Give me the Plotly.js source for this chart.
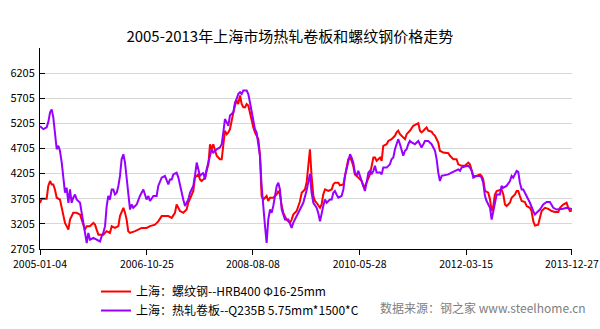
<!DOCTYPE html>
<html>
<head>
<meta charset="utf-8">
<script src="https://cdn.plot.ly/plotly-3.0.1.min.js"></script>
<style>html,body{margin:0;padding:0;background:#fff;}#chart{width:600px;height:329px;}</style>
</head>
<body>
<div id="chart"></div>
<script>
// Rebar (螺纹钢) price, Shanghai
const rebarDates = ['2005-01-04','2005-01-14','2005-02-14','2005-02-24','2005-03-07','2005-03-17','2005-03-27','2005-04-06','2005-04-17','2005-05-07','2005-05-18','2005-05-28','2005-06-07','2005-06-17','2005-06-28','2005-07-08','2005-07-18','2005-07-28','2005-08-18','2005-09-08','2005-09-18','2005-09-28','2005-10-08','2005-10-19','2005-11-08','2005-11-29','2005-12-09','2005-12-19','2005-12-30','2006-01-29','2006-02-19','2006-03-11','2006-03-22','2006-04-11','2006-05-02','2006-05-12','2006-05-22','2006-06-02','2006-06-12','2006-06-22','2006-07-02','2006-07-13','2006-08-13','2006-09-02','2006-09-23','2006-10-23','2006-11-13','2006-12-14','2007-01-03','2007-01-24','2007-03-06','2007-03-27','2007-04-16','2007-04-26','2007-05-07','2007-05-17','2007-06-06','2007-06-27','2007-07-07','2007-07-28','2007-08-07','2007-08-17','2007-09-07','2007-09-17','2007-09-27','2007-10-08','2007-10-18','2007-10-28','2007-11-08','2007-11-18','2007-11-28','2007-12-08','2007-12-19','2007-12-29','2008-01-08','2008-01-18','2008-01-29','2008-02-08','2008-02-18','2008-02-29','2008-03-10','2008-03-20','2008-03-30','2008-04-10','2008-04-20','2008-04-30','2008-05-10','2008-05-21','2008-05-31','2008-06-10','2008-06-21','2008-07-01','2008-07-11','2008-07-21','2008-08-01','2008-08-11','2008-08-21','2008-08-31','2008-09-11','2008-09-21','2008-10-01','2008-10-12','2008-10-22','2008-11-01','2008-11-11','2008-11-22','2008-12-12','2008-12-22','2009-01-02','2009-01-12','2009-01-22','2009-02-02','2009-02-12','2009-03-04','2009-03-15','2009-03-25','2009-04-04','2009-04-14','2009-05-05','2009-05-25','2009-06-05','2009-06-15','2009-06-25','2009-07-06','2009-07-16','2009-07-26','2009-08-05','2009-08-16','2009-08-26','2009-09-05','2009-09-26','2009-10-06','2009-10-16','2009-10-27','2009-11-16','2009-12-07','2009-12-17','2009-12-27','2010-01-17','2010-01-27','2010-02-17','2010-02-27','2010-03-09','2010-03-19','2010-03-30','2010-04-09','2010-04-19','2010-04-29','2010-05-20','2010-05-30','2010-06-10','2010-06-20','2010-06-30','2010-07-10','2010-07-31','2010-08-21','2010-08-31','2010-09-10','2010-10-01','2010-10-11','2010-10-21','2010-11-11','2010-11-21','2010-12-11','2011-01-01','2011-01-11','2011-01-21','2011-02-01','2011-02-21','2011-03-04','2011-03-14','2011-03-24','2011-04-03','2011-04-24','2011-05-15','2011-05-25','2011-06-04','2011-06-14','2011-06-25','2011-07-05','2011-07-15','2011-07-25','2011-08-15','2011-08-25','2011-09-05','2011-09-15','2011-09-25','2011-10-05','2011-10-26','2011-11-26','2011-12-06','2011-12-27','2012-01-16','2012-01-26','2012-02-16','2012-03-07','2012-03-28','2012-04-07','2012-04-28','2012-05-18','2012-06-08','2012-06-18','2012-06-28','2012-07-09','2012-07-29','2012-08-09','2012-08-19','2012-08-29','2012-09-08','2012-09-19','2012-10-09','2012-10-19','2012-10-30','2012-11-09','2012-11-19','2012-12-10','2012-12-20','2013-01-10','2013-01-20','2013-01-30','2013-02-09','2013-02-20','2013-03-12','2013-03-23','2013-04-12','2013-04-22','2013-05-03','2013-05-13','2013-06-02','2013-06-13','2013-06-23','2013-07-14','2013-08-03','2013-08-24','2013-09-13','2013-10-04','2013-10-14','2013-11-03','2013-11-24','2013-12-04','2013-12-15','2013-12-27'];
const rebarPrices = [3620,3705,3705,3960,4058,3990,3990,3890,3725,3690,3525,3360,3225,3160,3090,3290,3360,3425,3425,3390,3290,3190,3090,3160,3160,3225,3190,3090,2990,2990,3060,3025,3160,3125,3160,3360,3425,3525,3425,3290,3060,3025,3060,3090,3125,3125,3160,3190,3255,3360,3360,3325,3425,3590,3525,3460,3425,3490,3625,3790,3860,4125,4190,4090,4058,4090,4125,4260,4390,4790,4690,4790,4660,4560,4525,4490,4490,4790,5058,4990,5025,5090,5290,5425,5560,5660,5590,5760,5590,5525,5525,5590,5560,5425,5225,5125,5025,4958,4890,4560,3760,3690,3725,3760,3660,3725,3725,3760,3790,3860,3790,3560,3425,3290,3255,3225,3290,3390,3460,3650,3825,3860,3890,4040,4425,4690,4160,3760,3660,3625,3525,3590,3790,3890,3860,3890,3990,4025,4025,3970,3990,4160,4290,4490,4525,4460,4360,4190,4125,4090,4058,3960,3960,4025,4190,4525,4525,4460,4525,4460,4758,4790,4855,4890,4958,5025,5058,4990,4925,4890,4990,5025,5058,5158,5190,5210,5058,5025,5058,5090,5125,5058,5040,4990,4958,4890,4825,4660,4625,4610,4560,4490,4490,4390,4360,4360,4425,4390,4160,4160,4190,4160,4090,3860,3825,3690,3460,3560,3790,3860,3890,3890,3790,3590,3560,3625,3725,3790,3860,3860,3760,3660,3640,3560,3525,3460,3255,3170,3190,3360,3460,3525,3505,3460,3440,3440,3525,3590,3625,3525,3460,3470];

// Hot-rolled coil (热轧卷板) price, Shanghai
const coilDates = ['2005-01-04','2005-01-25','2005-02-14','2005-02-24','2005-03-07','2005-03-17','2005-03-27','2005-04-06','2005-04-17','2005-04-27','2005-05-07','2005-05-18','2005-05-28','2005-06-07','2005-06-17','2005-06-28','2005-07-08','2005-07-18','2005-07-28','2005-08-08','2005-08-18','2005-09-08','2005-09-18','2005-09-28','2005-10-08','2005-10-19','2005-10-29','2005-11-08','2005-11-29','2005-12-19','2006-01-09','2006-01-19','2006-01-29','2006-02-09','2006-02-19','2006-03-01','2006-03-11','2006-03-22','2006-04-01','2006-04-11','2006-04-22','2006-05-02','2006-05-12','2006-05-22','2006-06-02','2006-06-12','2006-06-22','2006-07-02','2006-07-13','2006-07-23','2006-08-02','2006-08-23','2006-09-02','2006-09-12','2006-10-03','2006-10-13','2006-10-23','2006-11-03','2006-11-13','2006-12-04','2006-12-24','2007-01-03','2007-01-24','2007-02-13','2007-03-06','2007-03-16','2007-03-27','2007-04-06','2007-04-26','2007-05-07','2007-05-17','2007-05-27','2007-06-06','2007-06-17','2007-06-27','2007-07-07','2007-07-18','2007-08-07','2007-08-17','2007-08-28','2007-09-07','2007-09-17','2007-10-08','2007-10-18','2007-10-28','2007-11-08','2007-11-18','2007-11-28','2007-12-08','2007-12-29','2008-01-18','2008-01-29','2008-02-08','2008-02-18','2008-02-29','2008-03-10','2008-03-20','2008-03-30','2008-04-10','2008-04-20','2008-04-30','2008-05-10','2008-05-21','2008-05-31','2008-06-10','2008-07-01','2008-07-11','2008-07-21','2008-08-01','2008-08-11','2008-08-21','2008-08-31','2008-09-11','2008-09-21','2008-10-01','2008-10-12','2008-10-22','2008-11-01','2008-11-11','2008-11-22','2008-12-02','2008-12-12','2008-12-22','2009-01-02','2009-01-12','2009-01-22','2009-02-02','2009-02-12','2009-02-22','2009-03-15','2009-04-04','2009-04-14','2009-05-05','2009-05-25','2009-06-15','2009-07-06','2009-07-16','2009-07-26','2009-08-05','2009-08-16','2009-09-05','2009-09-15','2009-09-26','2009-10-06','2009-10-16','2009-10-27','2009-11-06','2009-11-26','2009-12-07','2009-12-17','2009-12-27','2010-01-06','2010-01-17','2010-02-06','2010-02-17','2010-02-27','2010-03-09','2010-03-19','2010-03-30','2010-04-09','2010-04-19','2010-04-29','2010-05-10','2010-05-20','2010-05-30','2010-06-10','2010-06-20','2010-06-30','2010-07-10','2010-07-21','2010-07-31','2010-08-10','2010-08-21','2010-08-31','2010-09-10','2010-10-01','2010-10-11','2010-10-21','2010-11-11','2010-12-01','2010-12-11','2010-12-22','2011-01-01','2011-01-11','2011-01-21','2011-02-01','2011-02-11','2011-02-21','2011-03-04','2011-03-14','2011-03-24','2011-04-03','2011-04-14','2011-05-04','2011-05-25','2011-06-04','2011-06-14','2011-06-25','2011-07-05','2011-07-25','2011-08-15','2011-09-05','2011-09-15','2011-09-25','2011-10-05','2011-10-16','2011-11-05','2011-11-26','2011-12-16','2012-01-06','2012-01-26','2012-02-06','2012-02-16','2012-03-07','2012-03-28','2012-04-07','2012-04-18','2012-04-28','2012-05-18','2012-06-08','2012-06-18','2012-06-28','2012-07-09','2012-07-19','2012-07-29','2012-08-09','2012-08-19','2012-08-29','2012-09-08','2012-09-19','2012-10-09','2012-10-19','2012-10-30','2012-11-19','2012-12-10','2012-12-20','2012-12-30','2013-01-10','2013-01-20','2013-01-30','2013-02-09','2013-02-20','2013-03-02','2013-03-12','2013-03-23','2013-04-02','2013-04-12','2013-05-03','2013-05-13','2013-05-23','2013-06-13','2013-07-03','2013-07-24','2013-08-13','2013-08-24','2013-09-03','2013-09-23','2013-10-14','2013-11-03','2013-11-24','2013-12-15','2013-12-27'];
const coilPrices = [5150,5090,5125,5225,5425,5480,5325,5025,4690,4760,4660,4425,4090,3825,3925,3625,3890,3625,3725,3790,3690,3625,3425,3225,2960,2825,3025,2890,2925,2890,2855,2960,3025,3160,3560,3760,3690,3890,3890,3790,3825,3960,4160,4490,4590,4425,4160,3825,3490,3590,3525,3590,3690,3760,3890,3790,3690,3760,3660,3760,3760,3960,4125,4160,3990,4090,4090,4190,4225,4125,3960,3790,3690,3560,3625,3690,3825,3960,4160,4425,4290,4160,4225,4090,4290,4425,4560,4690,4625,4690,4725,4790,5025,5290,5225,5158,5360,5390,5425,5625,5690,5790,5825,5790,5860,5860,5790,5625,5425,5190,5090,5025,4825,4560,3960,3425,3160,2825,3290,3490,3425,3560,3760,3960,4025,3890,3490,3360,3290,3290,3125,3225,3360,3470,3625,3880,4025,4200,3825,3625,3525,3425,3255,3425,3560,3690,3625,3690,3690,3825,3860,3790,3725,3760,3890,4160,4290,4460,4590,4525,4425,4225,4160,4260,4160,4090,3960,3860,4025,4225,4260,4190,4260,4360,4225,4225,4190,4325,4325,4390,4490,4525,4690,4790,4890,4790,4690,4560,4660,4690,4790,4855,4825,4790,4855,4790,4725,4790,4855,4855,4790,4660,4490,4225,4058,4160,4175,4190,4225,4260,4290,4260,4325,4345,4360,4325,4260,4125,4160,4160,4125,4025,3760,3660,3590,3525,3290,3460,3660,3790,3790,3960,3925,3960,4058,4160,4125,4190,4260,4240,4025,3890,3890,3825,3760,3690,3625,3460,3390,3425,3490,3590,3640,3640,3590,3525,3490,3490,3505,3525,3505,3500];

const seriesNames = ['上海：螺纹钢--HRB400 Φ16-25mm', '上海：热轧卷板--Q235B 5.75mm*1500*C'];
const xTickDates = ['2005-01-04','2006-10-25','2008-08-08','2010-05-28','2012-03-15','2013-12-27'];
const xRange = ['2005-01-04', '2013-12-27 08:00'];
const yTicks = [2705, 3205, 3705, 4205, 4705, 5205, 5705, 6205];
const chartTitle = '2005-2013年上海市场热轧卷板和螺纹钢价格走势';
const sourceNote = '数据来源：钢之家 www.steelhome.cn';

const FONT = 'Noto Sans CJK SC, Noto Sans, sans-serif';

const traces = [
  {x: rebarDates, y: rebarPrices, name: seriesNames[0], type: 'scatter', mode: 'lines',
   line: {color: '#ff0000', width: 2}, hoverinfo: 'skip'},
  {x: coilDates, y: coilPrices, name: seriesNames[1], type: 'scatter', mode: 'lines',
   line: {color: '#9900ff', width: 2}, hoverinfo: 'skip'}
];

const layout = {
  width: 600, height: 329,
  margin: {l: 40, r: 28, t: 48, b: 80, pad: 0, autoexpand: false},
  paper_bgcolor: '#ffffff', plot_bgcolor: '#ffffff',
  font: {family: FONT, size: 11, color: '#000000'},
  title: {text: chartTitle, font: {family: FONT, size: 15, color: '#000000'},
          xref: 'container', x: 0.483, xanchor: 'center',
          yref: 'container', y: 0.8875, yanchor: 'middle', automargin: false},
  xaxis: {type: 'date', range: xRange,
          tickmode: 'array', tickvals: xTickDates, ticktext: xTickDates, tickangle: 0,
          ticks: 'outside', ticklen: 5, tickcolor: '#000', tickwidth: 1,
          showline: true, linecolor: '#000', linewidth: 1, showgrid: false, zeroline: false,
          automargin: false, ticklabeloverflow: 'allow',
          tickfont: {family: FONT, size: 10.5, color: '#000'}, fixedrange: true},
  yaxis: {range: [2705, 6705], tickmode: 'array', tickvals: yTicks,
          ticks: 'inside', ticklen: 5, tickcolor: '#000', tickwidth: 1,
          showline: true, linecolor: '#000', linewidth: 1,
          showgrid: true, gridcolor: '#d8d8d8', gridwidth: 1, zeroline: false,
          automargin: false, ticklabelstandoff: 2,
          tickfont: {family: FONT, size: 11, color: '#000'}, fixedrange: true},
  showlegend: true,
  legend: {xref: 'container', yref: 'container', x: 0.16, y: 0.158,
           xanchor: 'left', yanchor: 'top', orientation: 'v',
           font: {family: FONT, size: 12, color: '#000'}, itemwidth: 30,
           bgcolor: 'rgba(0,0,0,0)', tracegroupgap: 0},
  annotations: [{text: sourceNote, xref: 'paper', yref: 'paper', x: 1.03, y: -0.291,
                 xanchor: 'right', yanchor: 'middle', showarrow: false,
                 font: {family: FONT, size: 12, color: '#808080'}}]
};

Plotly.newPlot('chart', traces, layout, {displayModeBar: false, staticPlot: true});
</script>
</body>
</html>
